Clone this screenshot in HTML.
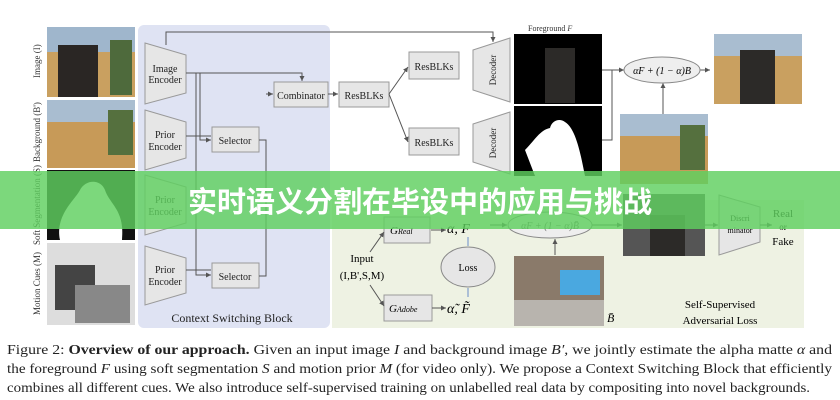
<!DOCTYPE html>
<html><head><meta charset="utf-8"><style>
html,body{margin:0;padding:0;background:#fff;width:840px;height:400px;overflow:hidden}
svg{display:block}
</style></head><body>
<svg width="840" height="400" viewBox="0 0 840 400" xmlns="http://www.w3.org/2000/svg" font-family="Liberation Serif, serif">
<defs>
<marker id="a" markerWidth="6" markerHeight="6" refX="5" refY="3" orient="auto"><path d="M0,0.5 L5,3 L0,5.5z" fill="#555"/></marker>
</defs>
<!-- backgrounds -->
<rect x="138" y="25" width="192" height="303" rx="6" fill="#dfe3f3"/>
<rect x="332" y="200" width="472" height="128" fill="#eef2e3"/>
<!-- left photos -->
<rect x="47" y="27" width="88" height="70" fill="#c9a060"/>
<rect x="47" y="27" width="88" height="25" fill="#9fb6cc"/>
<rect x="58" y="45" width="40" height="52" fill="#2a2624"/>
<rect x="110" y="40" width="22" height="55" fill="#4e6a3c"/>
<rect x="47" y="100" width="88" height="68" fill="#c79a58"/>
<rect x="47" y="100" width="88" height="22" fill="#a9bdd0"/>
<rect x="108" y="110" width="25" height="45" fill="#55703e"/>
<rect x="47" y="170" width="88" height="70" fill="#111"/>
<path d="M60,240 C55,215 75,200 80,190 C85,180 100,178 105,190 C110,205 125,210 122,240z" fill="#fff"/>
<rect x="47" y="243" width="88" height="82" fill="#ddd"/>
<rect x="55" y="265" width="40" height="45" fill="#444"/>
<rect x="75" y="285" width="55" height="38" fill="#888"/>
<g font-size="9" fill="#333">
<text transform="translate(40,78) rotate(-90)">Image (I)</text>
<text transform="translate(40,162) rotate(-90)">Background (B')</text>
<text transform="translate(40,245) rotate(-90)">Soft Segmentation (S)</text>
<text transform="translate(40,315) rotate(-90)">Motion Cues (M)</text>
</g>
<!-- encoders -->
<g fill="#e6e6e6" stroke="#999" stroke-width="1">
<path d="M145,43 L186,55 L186,93 L145,104z"/>
<path d="M145,110 L186,122 L186,158 L145,170z"/>
<path d="M145,175 L186,187 L186,223 L145,235z"/>
<path d="M145,246 L186,258 L186,293 L145,305z"/>
</g>
<g font-size="10" fill="#222" text-anchor="middle">
<text x="165" y="72">Image</text><text x="165" y="83">Encoder</text>
<text x="165" y="138">Prior</text><text x="165" y="150">Encoder</text>
<text x="165" y="203">Prior</text><text x="165" y="215">Encoder</text>
<text x="165" y="273">Prior</text><text x="165" y="285">Encoder</text>
</g>
<!-- selectors etc -->
<g fill="#e6e6e6" stroke="#999">
<rect x="212" y="127" width="47" height="25"/>
<rect x="212" y="263" width="47" height="25"/>
<rect x="274" y="82" width="54" height="25"/>
<rect x="339" y="82" width="50" height="25"/>
<rect x="409" y="52" width="50" height="27"/>
<rect x="409" y="128" width="50" height="27"/>
</g>
<g font-size="10" fill="#222" text-anchor="middle">
<text x="235" y="144">Selector</text>
<text x="235" y="280">Selector</text>
<text x="301" y="99">Combinator</text>
<text x="364" y="99">ResBLKs</text>
<text x="434" y="70">ResBLKs</text>
<text x="434" y="146">ResBLKs</text>
</g>
<g stroke="#555" fill="none" stroke-width="1">
<path d="M166,45 V32 H493 V42" marker-end="url(#a)"/>
<path d="M186,73 H302 V81" marker-end="url(#a)"/>
<path d="M196,73 V275 H211" marker-end="url(#a)"/>
<path d="M200,73 V140 H211" marker-end="url(#a)"/>
<path d="M186,136 H211"/>
<path d="M186,270 H211"/>
<path d="M259,140 H266 V276 H259"/>
<path d="M266,94 H273" marker-end="url(#a)"/>
<path d="M328,94 H338" marker-end="url(#a)"/>
<path d="M389,94 L408,67" marker-end="url(#a)"/>
<path d="M389,94 L408,142" marker-end="url(#a)"/>
<path d="M602,140 H612 V70 H624" marker-end="url(#a)"/>
<path d="M602,70 H622"/>
<path d="M700,70 H710" marker-end="url(#a)"/>
<path d="M663,115 V83" marker-end="url(#a)"/>
</g>
<!-- decoders -->
<g fill="#e6e6e6" stroke="#999">
<path d="M473,50 L510,38 L510,102 L473,90z"/>
<path d="M473,124 L510,112 L510,174 L473,162z"/>
</g>
<g font-size="9" fill="#222" text-anchor="middle">
<text transform="translate(496,70) rotate(-90)">Decoder</text>
<text transform="translate(496,143) rotate(-90)">Decoder</text>
</g>
<rect x="514" y="34" width="88" height="70" fill="#000"/>
<rect x="545" y="48" width="30" height="55" fill="#2c2a28"/>
<rect x="514" y="106" width="88" height="70" fill="#000"/>
<path d="M525,150 C535,140 540,130 550,128 C552,120 560,118 565,122 C575,128 580,150 585,176 L535,176z" fill="#fff"/>
<text x="528" y="31" font-size="8" fill="#333">Foreground  <tspan font-style="italic">F</tspan></text>
<ellipse cx="662" cy="70" rx="38" ry="13" fill="#eee" stroke="#888"/>
<text x="662" y="74" font-size="10" text-anchor="middle" font-style="italic">αF + (1 − α)B</text>
<rect x="714" y="34" width="88" height="70" fill="#c9a060"/>
<rect x="714" y="34" width="88" height="22" fill="#a9bdd0"/>
<rect x="740" y="50" width="35" height="54" fill="#2c2a28"/>
<rect x="620" y="114" width="88" height="70" fill="#c79a58"/>
<rect x="620" y="114" width="88" height="22" fill="#a9bdd0"/>
<rect x="680" y="125" width="25" height="45" fill="#55703e"/>
<!-- self-supervised region -->
<rect x="384" y="217" width="46" height="26" fill="#e6e6e6" stroke="#999"/>
<text x="390" y="234" font-size="11" font-style="italic">G<tspan font-size="8">Real</tspan></text>
<rect x="384" y="295" width="48" height="26" fill="#e6e6e6" stroke="#999"/>
<text x="389" y="312" font-size="11" font-style="italic">G<tspan font-size="8">Adobe</tspan></text>
<text x="447" y="233" font-size="14" font-style="italic">α,  F</text>
<text x="447" y="313" font-size="14" font-style="italic">α̃,  F̃</text>
<ellipse cx="550" cy="225" rx="42" ry="13" fill="#eee" stroke="#888"/>
<text x="550" y="229" font-size="10" text-anchor="middle" font-style="italic" fill="#666">αF + (1 − α)B̄</text>
<ellipse cx="468" cy="267" rx="27" ry="20" fill="#e6e6e6" stroke="#888"/>
<text x="468" y="271" font-size="10" text-anchor="middle">Loss</text>
<text x="362" y="262" font-size="11" text-anchor="middle">Input</text>
<text x="362" y="279" font-size="11" text-anchor="middle">(I,B',S,M)</text>
<rect x="514" y="256" width="90" height="70" fill="#8a7a6a"/>
<rect x="560" y="270" width="40" height="25" fill="#4aa8e0"/>
<rect x="514" y="300" width="90" height="26" fill="#b8b4ae"/>
<text x="607" y="322" font-size="12" font-style="italic">B̄</text>
<rect x="623" y="194" width="82" height="62" fill="#555"/>
<rect x="650" y="215" width="35" height="41" fill="#2c2a28"/>
<path d="M719,195 L760,207 L760,242 L719,255z" fill="#e6e6e6" stroke="#999"/>
<text x="740" y="221" font-size="8" text-anchor="middle">Discri</text>
<text x="740" y="233" font-size="8" text-anchor="middle">minator</text>
<text x="783" y="217" font-size="11" text-anchor="middle">Real</text>
<text x="783" y="230" font-size="9" text-anchor="middle">or</text>
<text x="783" y="245" font-size="11" text-anchor="middle">Fake</text>
<g stroke="#555" fill="none">
<path d="M370,252 L384,232" marker-end="url(#a)"/>
<path d="M370,285 L384,306" marker-end="url(#a)"/>
<path d="M431,230 H446" marker-end="url(#a)"/>
<path d="M432,308 H446" marker-end="url(#a)"/>
<path d="M490,225 H507" marker-end="url(#a)"/>
<path d="M592,225 H622" marker-end="url(#a)"/>
<path d="M705,225 H718" marker-end="url(#a)"/>
<path d="M760,225 H772" marker-end="url(#a)"/>
<path d="M555,255 V239" marker-end="url(#a)"/>
</g>
<path d="M468,237 V246 M468,297 V288" stroke="#6a8cc8"/>
<text x="232" y="322" font-size="12" text-anchor="middle" fill="#222">Context Switching Block</text>
<text x="720" y="308" font-size="11" text-anchor="middle">Self-Supervised</text>
<text x="720" y="324" font-size="11" text-anchor="middle">Adversarial Loss</text>
<!-- caption -->
<g font-size="14" fill="#222">
<text x="7" y="354" textLength="825" lengthAdjust="spacingAndGlyphs">Figure 2:  <tspan font-weight="bold">Overview of our approach.</tspan> Given an input image <tspan font-style="italic">I</tspan> and background image <tspan font-style="italic">B′</tspan>, we jointly estimate the alpha matte <tspan font-style="italic">α</tspan> and</text>
<text x="7" y="373" textLength="825" lengthAdjust="spacingAndGlyphs">the foreground <tspan font-style="italic">F</tspan> using soft segmentation <tspan font-style="italic">S</tspan> and motion prior <tspan font-style="italic">M</tspan> (for video only). We propose a Context Switching Block that efficiently</text>
<text x="7" y="392" textLength="803" lengthAdjust="spacingAndGlyphs">combines all different cues. We also introduce self-supervised training on unlabelled real data by compositing into novel backgrounds.</text>
</g>
<!-- banner -->
<rect x="0" y="171" width="840" height="58" fill="#5fcf5f" opacity="0.82"/>
<text x="420" y="212" font-size="29" font-weight="bold" fill="#fff" text-anchor="middle" font-family="Noto Sans CJK SC, sans-serif">实时语义分割在毕设中的应用与挑战</text>
</svg>
</body></html>
